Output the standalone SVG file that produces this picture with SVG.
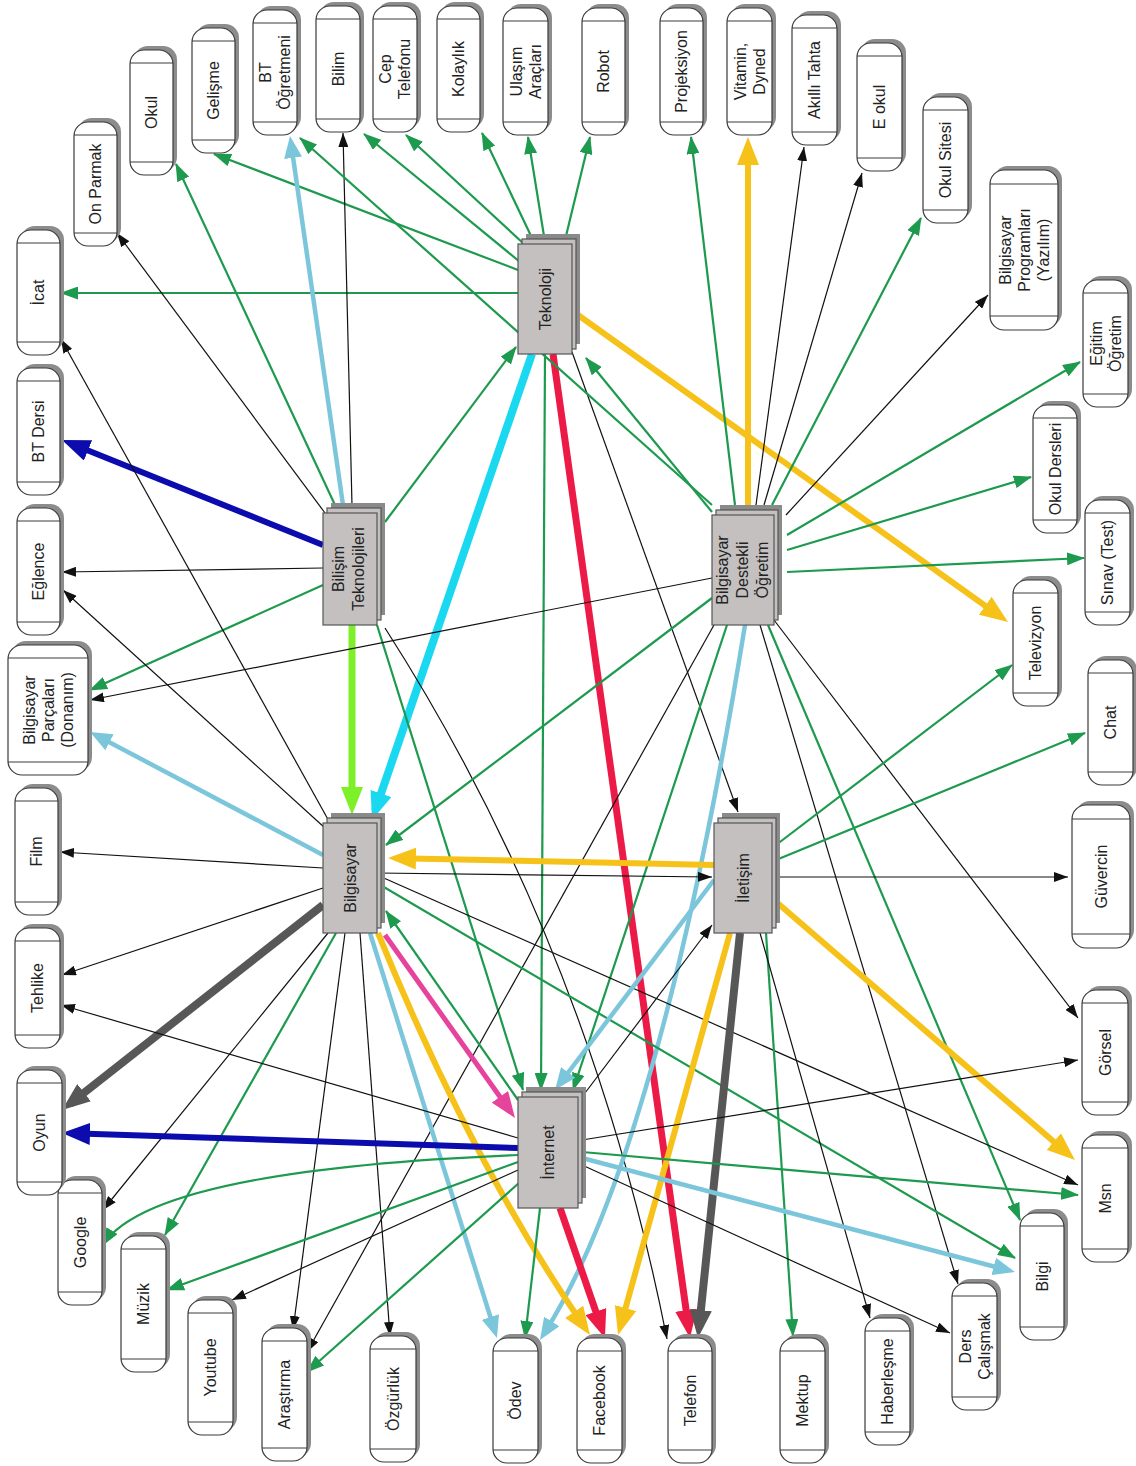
<svg xmlns="http://www.w3.org/2000/svg" width="1136" height="1466" viewBox="0 0 1136 1466">
<style>
  .sh{fill:#8c8c8c}
  .box{fill:#fff;stroke:#3a3a3a;stroke-width:1.2}
  .cap{fill:none;stroke:#3a3a3a;stroke-width:1}
  .lbl{font-family:"Liberation Sans",Arial,sans-serif;font-size:16px;fill:#222;text-anchor:middle}
  .hsh{fill:#8a8a8a}
  .hub{fill:#c4c0c0;stroke:#555;stroke-width:1.2}
  #connectors line,#connectors path{fill:none}
  .k{stroke:#111;stroke-width:1.2;marker-end:url(#ak)}
  .g{stroke:#1d9a4e;stroke-width:2.2;marker-end:url(#ag)}
  .lb{stroke:#7cc6dc;stroke-width:4.5;marker-end:url(#alb)}
  .cy{stroke:#1ad8f0;stroke-width:8;marker-end:url(#acy)}
  .rd{stroke:#ec1a46;stroke-width:7;marker-end:url(#ard)}
  .yl{stroke:#f6c21a;stroke-width:6;marker-end:url(#ayl)}
  .lm{stroke:#7ef02a;stroke-width:7;marker-end:url(#alm)}
  .bl{stroke:#0c0cae;stroke-width:6;marker-end:url(#abl)}
  .dg{stroke:#575757;stroke-width:8;marker-end:url(#adg)}
  .mg{stroke:#e6449c;stroke-width:5;marker-end:url(#amg)}
</style>
<defs>
  <marker id="ak" markerUnits="userSpaceOnUse" markerWidth="14" markerHeight="10" refX="14" refY="5" orient="auto"><path d="M0,0L14,5L0,10z" fill="#111"/></marker>
  <marker id="ag" markerUnits="userSpaceOnUse" markerWidth="18" markerHeight="13" refX="17" refY="6.5" orient="auto"><path d="M0,0L18,6.5L0,13z" fill="#1d9a4e"/></marker>
  <marker id="alb" markerUnits="userSpaceOnUse" markerWidth="22" markerHeight="18" refX="12" refY="9" orient="auto"><path d="M0,0L22,9L0,18z" fill="#7cc6dc"/></marker>
  <marker id="acy" markerUnits="userSpaceOnUse" markerWidth="28" markerHeight="22" refX="18" refY="11" orient="auto"><path d="M0,0L28,11L0,22z" fill="#1ad8f0"/></marker>
  <marker id="ard" markerUnits="userSpaceOnUse" markerWidth="28" markerHeight="22" refX="18" refY="11" orient="auto"><path d="M0,0L28,11L0,22z" fill="#ec1a46"/></marker>
  <marker id="ayl" markerUnits="userSpaceOnUse" markerWidth="28" markerHeight="22" refX="18" refY="11" orient="auto"><path d="M0,0L28,11L0,22z" fill="#f6c21a"/></marker>
  <marker id="alm" markerUnits="userSpaceOnUse" markerWidth="28" markerHeight="22" refX="18" refY="11" orient="auto"><path d="M0,0L28,11L0,22z" fill="#7ef02a"/></marker>
  <marker id="abl" markerUnits="userSpaceOnUse" markerWidth="28" markerHeight="22" refX="18" refY="11" orient="auto"><path d="M0,0L28,11L0,22z" fill="#0c0cae"/></marker>
  <marker id="adg" markerUnits="userSpaceOnUse" markerWidth="28" markerHeight="22" refX="18" refY="11" orient="auto"><path d="M0,0L28,11L0,22z" fill="#575757"/></marker>
  <marker id="amg" markerUnits="userSpaceOnUse" markerWidth="26" markerHeight="20" refX="16" refY="10" orient="auto"><path d="M0,0L26,10L0,20z" fill="#e6449c"/></marker>
</defs>
<rect width="1136" height="1466" fill="#fff"/>

<g id="connectors">
  <!-- Teknoloji -->
  <line class="g" x1="518" y1="293" x2="61" y2="293"/>
  <line class="g" x1="518" y1="270" x2="214" y2="154"/>
  <line class="g" x1="520" y1="262" x2="364" y2="134"/>
  <line class="g" x1="524" y1="244" x2="406" y2="135"/>
  <line class="g" x1="532" y1="238" x2="482" y2="133"/>
  <line class="g" x1="544" y1="236" x2="528" y2="137"/>
  <line class="g" x1="566" y1="236" x2="590" y2="137"/>
  <line class="cy" x1="532" y1="354" x2="375.2" y2="810.5"/>
  <line class="rd" x1="553" y1="354" x2="688.6" y2="1328.1"/>
  <line class="g" x1="545" y1="354" x2="541" y2="1090"/>
  <line class="k" x1="572" y1="352" x2="738" y2="812"/>
  <line class="yl" x1="578" y1="315" x2="999.9" y2="616.2"/>
  <!-- Bilisim Teknolojileri -->
  <line class="bl" x1="323" y1="545" x2="71.3" y2="443.7"/>
  <line class="k" x1="323" y1="568" x2="62" y2="572"/>
  <line class="g" x1="323" y1="585" x2="90" y2="690"/>
  <line class="lm" x1="352" y1="625" x2="352" y2="805"/>
  <line class="g" x1="385" y1="522" x2="516" y2="347"/>
  <line class="k" x1="325" y1="513" x2="117" y2="233"/>
  <line class="g" x1="335" y1="505" x2="176" y2="164"/>
  <line class="lb" x1="343" y1="505" x2="291.4" y2="145.9"/>
  <line class="k" x1="352" y1="505" x2="343" y2="133"/>
  <line class="g" x1="377" y1="625" x2="523" y2="1090"/>
  <path class="k" d="M385,628 Q589,946 667,1339"/>
  <!-- Bilgisayar Destekli Ogretim -->
  <line class="g" x1="712" y1="512" x2="586" y2="358"/>
  <line class="g" x1="712" y1="505" x2="300" y2="138"/>
  <line class="g" x1="735" y1="505" x2="691" y2="137"/>
  <line class="yl" x1="748" y1="505" x2="748" y2="147"/>
  <line class="k" x1="756" y1="505" x2="804" y2="147"/>
  <line class="k" x1="764" y1="505" x2="862" y2="173"/>
  <line class="g" x1="772" y1="505" x2="921" y2="218"/>
  <line class="k" x1="786" y1="515" x2="988" y2="295"/>
  <line class="g" x1="787" y1="535" x2="1080" y2="362"/>
  <line class="g" x1="787" y1="550" x2="1031" y2="477"/>
  <line class="g" x1="787" y1="572" x2="1084" y2="558"/>
  <line class="k" x1="712" y1="578" x2="90" y2="700"/>
  <line class="g" x1="712" y1="598" x2="386" y2="845"/>
  <line class="g" x1="727" y1="625" x2="573" y2="1090"/>
  <line class="k" x1="714" y1="625" x2="307" y2="1352"/>
  <path class="lb" d="M745,625 Q660,1150 545.3,1331.6"/>
  <line class="g" x1="768" y1="625" x2="1020" y2="1220"/>
  <line class="k" x1="760" y1="625" x2="958" y2="1284"/>
  <line class="k" x1="774" y1="620" x2="1078" y2="1018"/>
  <!-- Bilgisayar -->
  <line class="lb" x1="323" y1="855" x2="98.9" y2="736.7"/>
  <line class="k" x1="323" y1="868" x2="60" y2="852"/>
  <line class="k" x1="323" y1="888" x2="62" y2="975"/>
  <line class="dg" x1="323" y1="905" x2="69.9" y2="1103.8"/>
  <line class="k" x1="330" y1="823" x2="61" y2="339"/>
  <line class="k" x1="325" y1="828" x2="63" y2="590"/>
  <line class="k" x1="328" y1="933" x2="103" y2="1210"/>
  <line class="g" x1="336" y1="933" x2="165" y2="1235"/>
  <line class="k" x1="345" y1="933" x2="293" y2="1330"/>
  <line class="k" x1="360" y1="933" x2="390" y2="1336"/>
  <line class="lb" x1="370" y1="933" x2="494" y2="1328.5"/>
  <path class="yl" d="M378,933 Q470,1160 584.3,1326.7"/>
  <line class="mg" x1="385" y1="935" x2="509.2" y2="1109.8"/>
  <line class="k" x1="377" y1="873" x2="712" y2="877"/>
  <line class="k" x1="377" y1="875" x2="1078" y2="1185"/>
  <line class="g" x1="377" y1="883" x2="1015" y2="1258"/>
  <!-- Iletisim -->
  <line class="yl" x1="714" y1="865" x2="398" y2="858.2"/>
  <line class="g" x1="776" y1="845" x2="1012" y2="665"/>
  <line class="g" x1="776" y1="860" x2="1085" y2="733"/>
  <line class="k" x1="778" y1="877" x2="1068" y2="877"/>
  <line class="yl" x1="774" y1="900" x2="1067.4" y2="1153.4"/>
  <line class="g" x1="766" y1="933" x2="793" y2="1336"/>
  <line class="k" x1="760" y1="933" x2="870" y2="1318"/>
  <line class="dg" x1="740" y1="933" x2="699" y2="1328"/>
  <line class="yl" x1="730" y1="933" x2="620.7" y2="1325.4"/>
  <line class="lb" x1="714" y1="880" x2="561" y2="1082"/>
  <!-- Internet -->
  <line class="bl" x1="518" y1="1148" x2="72" y2="1133.3"/>
  <line class="k" x1="518" y1="1138" x2="61" y2="1005"/>
  <line class="g" x1="518" y1="1100" x2="386" y2="911"/>
  <path class="g" d="M518,1155 Q150,1170 103,1245"/>
  <line class="g" x1="518" y1="1162" x2="167" y2="1290"/>
  <line class="k" x1="518" y1="1170" x2="232" y2="1300"/>
  <line class="g" x1="520" y1="1182" x2="307" y2="1372"/>
  <line class="g" x1="540" y1="1208" x2="525" y2="1338"/>
  <line class="rd" x1="560" y1="1208" x2="601.7" y2="1328.6"/>
  <line class="k" x1="582" y1="1097" x2="712" y2="925"/>
  <line class="k" x1="582" y1="1140" x2="1078" y2="1060"/>
  <line class="g" x1="582" y1="1152" x2="1078" y2="1195"/>
  <line class="lb" x1="582" y1="1158" x2="1005.3" y2="1269.5"/>
  <line class="k" x1="582" y1="1165" x2="950" y2="1333"/>
</g>

<!-- hub nodes: stacked grey sheets -->
<g id="n-teknoloji" transform="translate(518,244)"><rect class="hsh" x="8" y="-10" width="54" height="110"/><rect class="hub" x="4" y="-5" width="54" height="110"/><rect class="hub" width="54" height="110"/><text class="lbl" transform="translate(27,55) rotate(-90)"><tspan x="0" y="5.5">Teknoloji</tspan></text></g>
<g id="n-bilisim" transform="translate(323,513)"><rect class="hsh" x="8" y="-10" width="54" height="112"/><rect class="hub" x="4" y="-5" width="54" height="112"/><rect class="hub" width="54" height="112"/><text class="lbl" transform="translate(25,56) rotate(-90)"><tspan x="0" y="-4">Bilişim</tspan><tspan x="0" y="16">Teknolojileri</tspan></text></g>
<g id="n-bdo" transform="translate(712,515)"><rect class="hsh" x="8" y="-10" width="62" height="110"/><rect class="hub" x="4" y="-5" width="62" height="110"/><rect class="hub" width="62" height="110"/><text class="lbl" transform="translate(30,55) rotate(-90)"><tspan x="0" y="-14.5">Bilgisayar</tspan><tspan x="0" y="5.5">Destekli</tspan><tspan x="0" y="25.5">Öğretim</tspan></text></g>
<g id="n-bilgisayar" transform="translate(323,823)"><rect class="hsh" x="8" y="-10" width="54" height="110"/><rect class="hub" x="4" y="-5" width="54" height="110"/><rect class="hub" width="54" height="110"/><text class="lbl" transform="translate(27,55) rotate(-90)"><tspan x="0" y="5.5">Bilgisayar</tspan></text></g>
<g id="n-iletisim" transform="translate(714,823)"><rect class="hsh" x="8" y="-10" width="58" height="110"/><rect class="hub" x="4" y="-5" width="58" height="110"/><rect class="hub" width="58" height="110"/><text class="lbl" transform="translate(29,55) rotate(-90)"><tspan x="0" y="5.5">İletişim</tspan></text></g>
<g id="n-internet" transform="translate(518,1097)"><rect class="hsh" x="8" y="-10" width="60" height="111"/><rect class="hub" x="4" y="-5" width="60" height="111"/><rect class="hub" width="60" height="111"/><text class="lbl" transform="translate(30,55.5) rotate(-90)"><tspan x="0" y="5.5">İnternet</tspan></text></g>

<!-- leaf nodes: capsule boxes with shadow -->
<g id="n-on-parmak" transform="translate(74,122)"><rect class="sh" x="4" y="-4" width="43" height="124" rx="14"/><rect class="box" width="43" height="124" rx="14"/><path class="cap" d="M0,13H43M0,111H43"/><text class="lbl" transform="translate(21.5,62) rotate(-90)"><tspan x="0" y="5.5">On Parmak</tspan></text></g>
<g id="n-okul" transform="translate(130,50)"><rect class="sh" x="4" y="-4" width="43" height="125" rx="14"/><rect class="box" width="43" height="125" rx="14"/><path class="cap" d="M0,13H43M0,112H43"/><text class="lbl" transform="translate(21.5,62.5) rotate(-90)"><tspan x="0" y="5.5">Okul</tspan></text></g>
<g id="n-gelisme" transform="translate(192,28)"><rect class="sh" x="4" y="-4" width="43" height="125" rx="14"/><rect class="box" width="43" height="125" rx="14"/><path class="cap" d="M0,13H43M0,112H43"/><text class="lbl" transform="translate(21.5,62.5) rotate(-90)"><tspan x="0" y="5.5">Gelişme</tspan></text></g>
<g id="n-bt-ogretmeni" transform="translate(253,10)"><rect class="sh" x="4" y="-4" width="44" height="125" rx="14"/><rect class="box" width="44" height="125" rx="14"/><path class="cap" d="M0,13H44M0,112H44"/><text class="lbl" transform="translate(22,62.5) rotate(-90)"><tspan x="0" y="-4">BT</tspan><tspan x="0" y="15">Öğretmeni</tspan></text></g>
<g id="n-bilim" transform="translate(316,6)"><rect class="sh" x="4" y="-4" width="44" height="126" rx="14"/><rect class="box" width="44" height="126" rx="14"/><path class="cap" d="M0,13H44M0,113H44"/><text class="lbl" transform="translate(22,63) rotate(-90)"><tspan x="0" y="5.5">Bilim</tspan></text></g>
<g id="n-cep-telefonu" transform="translate(373,6)"><rect class="sh" x="4" y="-4" width="44" height="126" rx="14"/><rect class="box" width="44" height="126" rx="14"/><path class="cap" d="M0,13H44M0,113H44"/><text class="lbl" transform="translate(22,63) rotate(-90)"><tspan x="0" y="-4">Cep</tspan><tspan x="0" y="15">Telefonu</tspan></text></g>
<g id="n-kolaylik" transform="translate(437,6)"><rect class="sh" x="4" y="-4" width="43" height="126" rx="14"/><rect class="box" width="43" height="126" rx="14"/><path class="cap" d="M0,13H43M0,113H43"/><text class="lbl" transform="translate(21.5,63) rotate(-90)"><tspan x="0" y="5.5">Kolaylık</tspan></text></g>
<g id="n-ulasim" transform="translate(503,8)"><rect class="sh" x="4" y="-4" width="45" height="127" rx="14"/><rect class="box" width="45" height="127" rx="14"/><path class="cap" d="M0,13H45M0,114H45"/><text class="lbl" transform="translate(22.5,63.5) rotate(-90)"><tspan x="0" y="-4">Ulaşım</tspan><tspan x="0" y="15">Araçları</tspan></text></g>
<g id="n-robot" transform="translate(582,8)"><rect class="sh" x="4" y="-4" width="43" height="127" rx="14"/><rect class="box" width="43" height="127" rx="14"/><path class="cap" d="M0,13H43M0,114H43"/><text class="lbl" transform="translate(21.5,63.5) rotate(-90)"><tspan x="0" y="5.5">Robot</tspan></text></g>
<g id="n-projeksiyon" transform="translate(660,8)"><rect class="sh" x="4" y="-4" width="43" height="127" rx="14"/><rect class="box" width="43" height="127" rx="14"/><path class="cap" d="M0,13H43M0,114H43"/><text class="lbl" transform="translate(21.5,63.5) rotate(-90)"><tspan x="0" y="5.5">Projeksiyon</tspan></text></g>
<g id="n-vitamin" transform="translate(727,8)"><rect class="sh" x="4" y="-4" width="45" height="127" rx="14"/><rect class="box" width="45" height="127" rx="14"/><path class="cap" d="M0,13H45M0,114H45"/><text class="lbl" transform="translate(22.5,63.5) rotate(-90)"><tspan x="0" y="-4">Vitamin,</tspan><tspan x="0" y="15">Dyned</tspan></text></g>
<g id="n-akilli-tahta" transform="translate(792,15)"><rect class="sh" x="4" y="-4" width="45" height="130" rx="14"/><rect class="box" width="45" height="130" rx="14"/><path class="cap" d="M0,13H45M0,117H45"/><text class="lbl" transform="translate(22.5,65) rotate(-90)"><tspan x="0" y="5.5">Akıllı Tahta</tspan></text></g>
<g id="n-e-okul" transform="translate(857,43)"><rect class="sh" x="4" y="-4" width="45" height="128" rx="14"/><rect class="box" width="45" height="128" rx="14"/><path class="cap" d="M0,13H45M0,115H45"/><text class="lbl" transform="translate(22.5,64) rotate(-90)"><tspan x="0" y="5.5">E okul</tspan></text></g>
<g id="n-okul-sitesi" transform="translate(923,97)"><rect class="sh" x="4" y="-4" width="45" height="126" rx="14"/><rect class="box" width="45" height="126" rx="14"/><path class="cap" d="M0,13H45M0,113H45"/><text class="lbl" transform="translate(22.5,63) rotate(-90)"><tspan x="0" y="5.5">Okul Sitesi</tspan></text></g>
<g id="n-bilgisayar-programlari" transform="translate(990,170)"><rect class="sh" x="4" y="-4" width="68" height="160" rx="14"/><rect class="box" width="68" height="160" rx="14"/><path class="cap" d="M0,14H68M0,146H68"/><text class="lbl" transform="translate(34,80) rotate(-90)"><tspan x="0" y="-13.5">Bilgisayar</tspan><tspan x="0" y="5.5">Programları</tspan><tspan x="0" y="24.5">(Yazılım)</tspan></text></g>
<g id="n-egitim-ogretim" transform="translate(1083,280)"><rect class="sh" x="4" y="-4" width="45" height="127" rx="14"/><rect class="box" width="45" height="127" rx="14"/><path class="cap" d="M0,13H45M0,114H45"/><text class="lbl" transform="translate(22.5,63.5) rotate(-90)"><tspan x="0" y="-4">Eğitim</tspan><tspan x="0" y="15">Öğretim</tspan></text></g>
<g id="n-okul-dersleri" transform="translate(1033,405)"><rect class="sh" x="4" y="-4" width="44" height="128" rx="14"/><rect class="box" width="44" height="128" rx="14"/><path class="cap" d="M0,13H44M0,115H44"/><text class="lbl" transform="translate(22,64) rotate(-90)"><tspan x="0" y="5.5">Okul Dersleri</tspan></text></g>
<g id="n-sinav" transform="translate(1085,500)"><rect class="sh" x="4" y="-4" width="45" height="125" rx="14"/><rect class="box" width="45" height="125" rx="14"/><path class="cap" d="M0,13H45M0,112H45"/><text class="lbl" transform="translate(22.5,62.5) rotate(-90)"><tspan x="0" y="5.5">Sınav (Test)</tspan></text></g>
<g id="n-televizyon" transform="translate(1013,580)"><rect class="sh" x="4" y="-4" width="45" height="126" rx="14"/><rect class="box" width="45" height="126" rx="14"/><path class="cap" d="M0,13H45M0,113H45"/><text class="lbl" transform="translate(22.5,63) rotate(-90)"><tspan x="0" y="5.5">Televizyon</tspan></text></g>
<g id="n-chat" transform="translate(1088,660)"><rect class="sh" x="4" y="-4" width="45" height="125" rx="14"/><rect class="box" width="45" height="125" rx="14"/><path class="cap" d="M0,13H45M0,112H45"/><text class="lbl" transform="translate(22.5,62.5) rotate(-90)"><tspan x="0" y="5.5">Chat</tspan></text></g>
<g id="n-guvercin" transform="translate(1072,805)"><rect class="sh" x="4" y="-4" width="58" height="143" rx="14"/><rect class="box" width="58" height="143" rx="14"/><path class="cap" d="M0,14H58M0,129H58"/><text class="lbl" transform="translate(29,71.5) rotate(-90)"><tspan x="0" y="5.5">Güvercin</tspan></text></g>
<g id="n-gorsel" transform="translate(1082,990)"><rect class="sh" x="4" y="-4" width="46" height="125" rx="14"/><rect class="box" width="46" height="125" rx="14"/><path class="cap" d="M0,13H46M0,112H46"/><text class="lbl" transform="translate(23,62.5) rotate(-90)"><tspan x="0" y="5.5">Görsel</tspan></text></g>
<g id="n-msn" transform="translate(1082,1135)"><rect class="sh" x="4" y="-4" width="46" height="127" rx="14"/><rect class="box" width="46" height="127" rx="14"/><path class="cap" d="M0,13H46M0,114H46"/><text class="lbl" transform="translate(23,63.5) rotate(-90)"><tspan x="0" y="5.5">Msn</tspan></text></g>
<g id="n-bilgi" transform="translate(1020,1213)"><rect class="sh" x="4" y="-4" width="44" height="127" rx="14"/><rect class="box" width="44" height="127" rx="14"/><path class="cap" d="M0,13H44M0,114H44"/><text class="lbl" transform="translate(22,63.5) rotate(-90)"><tspan x="0" y="5.5">Bilgi</tspan></text></g>
<g id="n-ders-calismak" transform="translate(952,1283)"><rect class="sh" x="4" y="-4" width="45" height="127" rx="14"/><rect class="box" width="45" height="127" rx="14"/><path class="cap" d="M0,13H45M0,114H45"/><text class="lbl" transform="translate(22.5,63.5) rotate(-90)"><tspan x="0" y="-4">Ders</tspan><tspan x="0" y="15">Çalışmak</tspan></text></g>
<g id="n-haberlesme" transform="translate(865,1318)"><rect class="sh" x="4" y="-4" width="45" height="127" rx="14"/><rect class="box" width="45" height="127" rx="14"/><path class="cap" d="M0,13H45M0,114H45"/><text class="lbl" transform="translate(22.5,63.5) rotate(-90)"><tspan x="0" y="5.5">Haberleşme</tspan></text></g>
<g id="n-mektup" transform="translate(780,1338)"><rect class="sh" x="4" y="-4" width="45" height="125" rx="14"/><rect class="box" width="45" height="125" rx="14"/><path class="cap" d="M0,13H45M0,112H45"/><text class="lbl" transform="translate(22.5,62.5) rotate(-90)"><tspan x="0" y="5.5">Mektup</tspan></text></g>
<g id="n-telefon" transform="translate(668,1338)"><rect class="sh" x="4" y="-4" width="44" height="125" rx="14"/><rect class="box" width="44" height="125" rx="14"/><path class="cap" d="M0,13H44M0,112H44"/><text class="lbl" transform="translate(22,62.5) rotate(-90)"><tspan x="0" y="5.5">Telefon</tspan></text></g>
<g id="n-facebook" transform="translate(577,1338)"><rect class="sh" x="4" y="-4" width="45" height="125" rx="14"/><rect class="box" width="45" height="125" rx="14"/><path class="cap" d="M0,13H45M0,112H45"/><text class="lbl" transform="translate(22.5,62.5) rotate(-90)"><tspan x="0" y="5.5">Facebook</tspan></text></g>
<g id="n-odev" transform="translate(493,1338)"><rect class="sh" x="4" y="-4" width="45" height="125" rx="14"/><rect class="box" width="45" height="125" rx="14"/><path class="cap" d="M0,13H45M0,112H45"/><text class="lbl" transform="translate(22.5,62.5) rotate(-90)"><tspan x="0" y="5.5">Ödev</tspan></text></g>
<g id="n-ozgurluk" transform="translate(370,1336)"><rect class="sh" x="4" y="-4" width="46" height="126" rx="14"/><rect class="box" width="46" height="126" rx="14"/><path class="cap" d="M0,13H46M0,113H46"/><text class="lbl" transform="translate(23,63) rotate(-90)"><tspan x="0" y="5.5">Özgürlük</tspan></text></g>
<g id="n-arastirma" transform="translate(262,1328)"><rect class="sh" x="4" y="-4" width="45" height="133" rx="14"/><rect class="box" width="45" height="133" rx="14"/><path class="cap" d="M0,13H45M0,120H45"/><text class="lbl" transform="translate(22.5,66.5) rotate(-90)"><tspan x="0" y="5.5">Araştırma</tspan></text></g>
<g id="n-youtube" transform="translate(188,1300)"><rect class="sh" x="4" y="-4" width="45" height="135" rx="14"/><rect class="box" width="45" height="135" rx="14"/><path class="cap" d="M0,13H45M0,122H45"/><text class="lbl" transform="translate(22.5,67.5) rotate(-90)"><tspan x="0" y="5.5">Youtube</tspan></text></g>
<g id="n-muzik" transform="translate(121,1236)"><rect class="sh" x="4" y="-4" width="45" height="136" rx="14"/><rect class="box" width="45" height="136" rx="14"/><path class="cap" d="M0,13H45M0,123H45"/><text class="lbl" transform="translate(22.5,68) rotate(-90)"><tspan x="0" y="5.5">Müzik</tspan></text></g>
<g id="n-google" transform="translate(58,1180)"><rect class="sh" x="4" y="-4" width="44" height="125" rx="14"/><rect class="box" width="44" height="125" rx="14"/><path class="cap" d="M0,13H44M0,112H44"/><text class="lbl" transform="translate(22,62.5) rotate(-90)"><tspan x="0" y="5.5">Google</tspan></text></g>
<g id="n-oyun" transform="translate(17,1070)"><rect class="sh" x="4" y="-4" width="45" height="125" rx="14"/><rect class="box" width="45" height="125" rx="14"/><path class="cap" d="M0,13H45M0,112H45"/><text class="lbl" transform="translate(22.5,62.5) rotate(-90)"><tspan x="0" y="5.5">Oyun</tspan></text></g>
<g id="n-tehlike" transform="translate(15,928)"><rect class="sh" x="4" y="-4" width="45" height="120" rx="14"/><rect class="box" width="45" height="120" rx="14"/><path class="cap" d="M0,13H45M0,107H45"/><text class="lbl" transform="translate(22.5,60) rotate(-90)"><tspan x="0" y="5.5">Tehlike</tspan></text></g>
<g id="n-film" transform="translate(15,788)"><rect class="sh" x="4" y="-4" width="43" height="127" rx="14"/><rect class="box" width="43" height="127" rx="14"/><path class="cap" d="M0,13H43M0,114H43"/><text class="lbl" transform="translate(21.5,63.5) rotate(-90)"><tspan x="0" y="5.5">Film</tspan></text></g>
<g id="n-bilgisayar-parcalari" transform="translate(8,645)"><rect class="sh" x="4" y="-4" width="80" height="130" rx="14"/><rect class="box" width="80" height="130" rx="14"/><path class="cap" d="M0,13H80M0,117H80"/><text class="lbl" transform="translate(40,65) rotate(-90)"><tspan x="0" y="-13.5">Bilgisayar</tspan><tspan x="0" y="5.5">Parçaları</tspan><tspan x="0" y="24.5">(Donanım)</tspan></text></g>
<g id="n-eglence" transform="translate(17,508)"><rect class="sh" x="4" y="-4" width="43" height="127" rx="14"/><rect class="box" width="43" height="127" rx="14"/><path class="cap" d="M0,13H43M0,114H43"/><text class="lbl" transform="translate(21.5,63.5) rotate(-90)"><tspan x="0" y="5.5">Eğlence</tspan></text></g>
<g id="n-bt-dersi" transform="translate(17,368)"><rect class="sh" x="4" y="-4" width="43" height="127" rx="14"/><rect class="box" width="43" height="127" rx="14"/><path class="cap" d="M0,13H43M0,114H43"/><text class="lbl" transform="translate(21.5,63.5) rotate(-90)"><tspan x="0" y="5.5">BT Dersi</tspan></text></g>
<g id="n-icat" transform="translate(17,230)"><rect class="sh" x="4" y="-4" width="43" height="125" rx="14"/><rect class="box" width="43" height="125" rx="14"/><path class="cap" d="M0,13H43M0,112H43"/><text class="lbl" transform="translate(21.5,62.5) rotate(-90)"><tspan x="0" y="5.5">İcat</tspan></text></g>
</svg>
